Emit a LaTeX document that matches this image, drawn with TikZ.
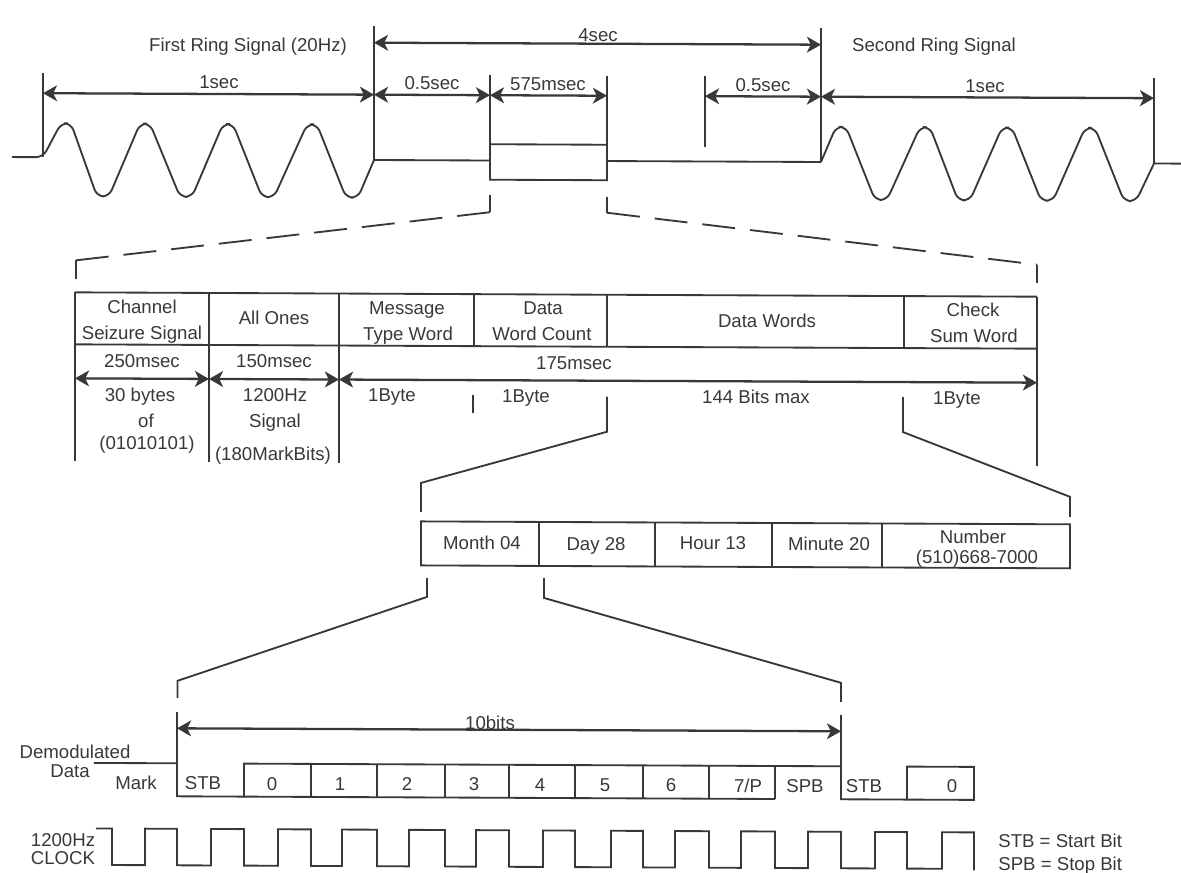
\documentclass[tikz,border=0pt]{standalone}
\usepackage{fontspec}
\setmainfont{Liberation Sans}
\usetikzlibrary{arrows.meta,calc}
\definecolor{ink}{gray}{0.22}
\tikzset{
  lbl/.style={text=ink,font=\fontsize{10.6}{12}\selectfont,inner sep=0pt,text height=7.6pt,text depth=0pt},
  ln/.style={draw=ink,line width=1.05pt,line join=miter},
  dimarrow/.style={ln,line width=1.3pt,{Stealth[length=8pt,width=9pt,inset=2.2pt]}-{Stealth[length=8pt,width=9pt,inset=2.2pt]}}
}
\begin{document}
\begin{tikzpicture}[x=0.02cm,y=-0.02cm]
  \useasboundingbox (0,0) rectangle (1181,873);

  \begin{scope}[yslant=-0.0045]
    % ring signals
    \draw[ln,rounded corners=4pt] (12,157) -- (43,157)
      \foreach \p/\t in {66/103,145/186,228/268,312/352} {-- (\p-5,123) -- (\p+5,123) -- (\t-6,196) -- (\t+6,196)}
      -- (374,158.3);
    \draw[ln,rounded corners=4pt] (821,158.3)
      \foreach \p/\t in {841/881,925/964,1007/1047,1090/1130} {-- (\p-5,123) -- (\p+5,123) -- (\t-6,196) -- (\t+6,196)}
      -- (1154,158.3);
    \draw[ln] (374,158.3) -- (490,158.3);
    \draw[ln] (607,158.3) -- (821,158.3);
    \draw[ln] (1154,158.3) -- (1181,158.3);
    \draw[ln] (490,142) rectangle (607,177.5);

    \coordinate (A) at (43,93);
    \coordinate (B) at (374,93);
    \coordinate (C) at (490,93);
    \coordinate (D) at (607,93);
    \coordinate (E) at (705,93);
    \coordinate (F) at (821,93);
    \coordinate (G) at (1154,93);
    \coordinate (H) at (374,41);
    \coordinate (I) at (821,41);

    \draw[ln] (43,73) -- (43,157);
    \draw[ln] (374,24) -- (374,158.3);
    \draw[ln] (490,73) -- (490,177.5);
    \draw[ln] (607,73) -- (607,177.5);
    \draw[ln] (705,73) -- (705,144);
    \draw[ln] (821,24) -- (821,158.3);
    \draw[ln] (1154,73) -- (1154,158.3);

    \draw[dimarrow] (H) -- (I);
    \draw[dimarrow] (A) -- (B);
    \draw[dimarrow] (B) -- (C);
    \draw[dimarrow] (C) -- (D);
    \draw[dimarrow] (E) -- (F);
    \draw[dimarrow] (F) -- (G);

    % zoom to the frame
    \draw[ln,dash pattern=on 33*0.02cm off 15*0.02cm] (490,210) -- (76,260);
    \draw[ln,dash pattern=on 33*0.02cm off 15*0.02cm] (607,210) -- (1037,260);
    \draw[ln] (490,193) -- (490,210);
    \draw[ln] (607,194) -- (607,210);
    \draw[ln] (76,260) -- (76,279);
    \draw[ln] (1037,260) -- (1037,278);

    % frame
    \draw[ln] (75,292) -- (1037,292);
    \draw[ln] (75,344) -- (1037,344);
    \foreach \x in {75,209,339} {\draw[ln] (\x,292) -- (\x,461);}
    \foreach \x in {474,607,904} {\draw[ln] (\x,292) -- (\x,344);}
    \draw[ln] (1037,292) -- (1037,461);

    \coordinate (J) at (75,378);
    \coordinate (K) at (209,378);
    \coordinate (L) at (339,378);
    \coordinate (M) at (1037,378);
    \draw[dimarrow] (J) -- (K);
    \draw[dimarrow] (K) -- (L);
    \draw[dimarrow] (L) -- (M);

    \draw[ln] (473,393) -- (473,411);
    \draw[ln] (607,394) -- (607,429) -- (421,481) -- (421,510);
    \draw[ln] (903,393) -- (903,428) -- (1070,492) -- (1070,512);

    % caller id fields
    \draw[ln] (421,519.5) rectangle (1070,563.5);
    \foreach \x in {539,655,772,882} {\draw[ln] (\x,519.5) -- (\x,563.5);}

    \draw[ln] (427,576) -- (427,595) -- (177.5,680) -- (177.5,697);
    \draw[ln] (544,575.5) -- (544,595.5) -- (841,679) -- (841,698);

    % one word
    \coordinate (N) at (177,727.5);
    \coordinate (O) at (841,727.5);
    \draw[ln] (177,711) -- (177,762.5);
    \draw[ln] (841,711) -- (841,762.5);
    \draw[dimarrow] (N) -- (O);
    \draw[ln] (94,762.5) -- (177,762.5) -- (177,795.5) -- (244,795.5) -- (244,762.5)
      -- (841,762.5) -- (841,795.5) -- (974,795.5) -- (974,762.5) -- (907,762.5) -- (907,795.5);
    \draw[ln] (244,795.5) -- (775,795.5);
    \foreach \x in {311,377,445,509,575,643,709,775} {\draw[ln] (\x,762.5) -- (\x,795.5);}

    % clock
    \draw[ln] (96,828) -- (112,828) -- (112,864.5)
      \foreach \r/\f in {145/177,211/244,278/311,342/377,409/445,476/509,543/575,611/643,675/709,741/775,808/841,875/907} {-- (\r,864.5) -- (\r,828) -- (\f,828) -- (\f,864.5)}
      -- (942,864.5) -- (942,828) -- (974,828) -- (974,866);
  \end{scope}

  \node[lbl] (first) at (248,45) {First Ring Signal (20Hz)};
  \node[lbl] (second) at (934,45) {Second Ring Signal};
  \node[lbl] (four) at (598,35) {4sec};
  \node[lbl] (oneA) at (219,82) {1sec};
  \node[lbl] (halfA) at (432,83) {0.5sec};
  \node[lbl] (width) at (548,84) {575msec};
  \node[lbl] (halfB) at (763,85) {0.5sec};
  \node[lbl] (oneB) at (985,86) {1sec};

  \node[lbl] (chanA) at (142,307) {Channel};
  \node[lbl] (chanB) at (142,333) {Seizure Signal};
  \node[lbl] (ones) at (274,318) {All Ones};
  \node[lbl] (msgA) at (407,308) {Message};
  \node[lbl] (msgB) at (408,334) {Type Word};
  \node[lbl] (cntA) at (543,308) {Data};
  \node[lbl] (cntB) at (542,334) {Word Count};
  \node[lbl] (words) at (767,321) {Data Words};
  \node[lbl] (sumA) at (973,310) {Check};
  \node[lbl] (sumB) at (974,336) {Sum Word};

  \node[lbl] (tA) at (142,361) {250msec};
  \node[lbl] (tB) at (274,361) {150msec};
  \node[lbl] (tC) at (574,363) {175msec};

  \node[lbl] (bytesA) at (140,395) {30 bytes};
  \node[lbl] (bytesB) at (146,421) {of};
  \node[lbl] (bytesC) at (147,443) {(01010101)};
  \node[lbl] (hzA) at (275,395) {1200Hz};
  \node[lbl] (hzB) at (275,421) {Signal};
  \node[lbl] (hzC) at (273,454) {(180MarkBits)};
  \node[lbl] (byteA) at (392,395) {1Byte};
  \node[lbl] (byteB) at (526,396) {1Byte};
  \node[lbl] (maxb) at (756,397) {144 Bits max};
  \node[lbl] (byteC) at (957,398) {1Byte};

  \node[lbl] (month) at (482,543) {Month 04};
  \node[lbl] (day) at (596,544) {Day 28};
  \node[lbl] (hour) at (713,543) {Hour 13};
  \node[lbl] (minute) at (829,544) {Minute 20};
  \node[lbl] (numA) at (973,537) {Number};
  \node[lbl] (numB) at (977,557) {(510)668-7000};

  \node[lbl] (tenb) at (490,723) {10bits};
  \node[lbl] (demA) at (75,752) {Demodulated};
  \node[lbl] (demB) at (70,771) {Data};
  \node[lbl] (mark) at (136,783) {Mark};
  \node[lbl] (stbA) at (203,783) {STB};
  \node[lbl] (bitA) at (272,784) {0};
  \node[lbl] (bitB) at (340,784) {1};
  \node[lbl] (bitC) at (407,784) {2};
  \node[lbl] (bitD) at (474,784) {3};
  \node[lbl] (bitE) at (540,785) {4};
  \node[lbl] (bitF) at (605,785) {5};
  \node[lbl] (bitG) at (671,785) {6};
  \node[lbl] (bitH) at (748,786) {7/P};
  \node[lbl] (spb) at (805,786) {SPB};
  \node[lbl] (stbB) at (864,786) {STB};
  \node[lbl] (bitI) at (952,786) {0};

  \node[lbl] (clkA) at (63,840) {1200Hz};
  \node[lbl] (clkB) at (63,858) {CLOCK};
  \node[lbl,anchor=west] (keyA) at (998,841) {STB = Start Bit};
  \node[lbl,anchor=west] (keyB) at (998,864) {SPB = Stop Bit};
\end{tikzpicture}
\end{document}
